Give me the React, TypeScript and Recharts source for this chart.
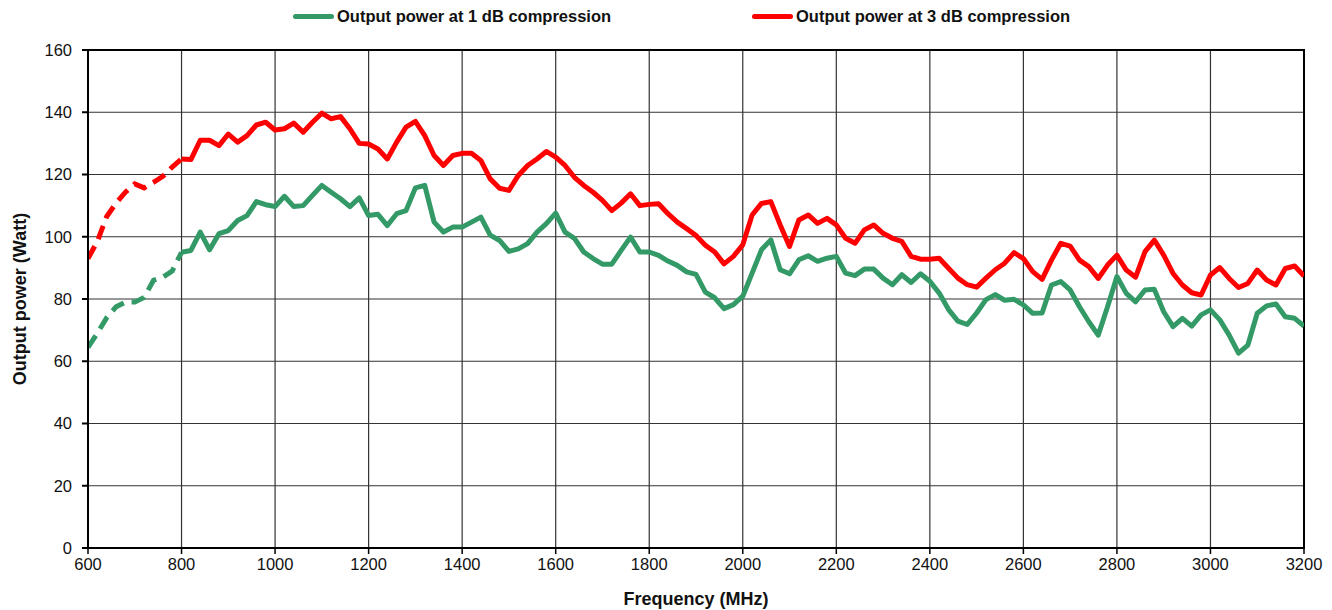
import {
  LineChart,
  Line,
  XAxis,
  YAxis,
  CartesianGrid,
  Legend,
  Label,
  ReferenceArea
} from "recharts";

// frequency grid (MHz)
const FREQ_DASHED = [600, 620, 640, 660, 680, 700, 720, 740, 760, 780, 800];
const FREQ_SOLID = [
  800, 820, 840, 860, 880, 900, 920, 940, 960, 980,
  1000, 1020, 1040, 1060, 1080, 1100, 1120, 1140, 1160, 1180,
  1200, 1220, 1240, 1260, 1280, 1300, 1320, 1340, 1360, 1380,
  1400, 1420, 1440, 1460, 1480, 1500, 1520, 1540, 1560, 1580,
  1600, 1620, 1640, 1660, 1680, 1700, 1720, 1740, 1760, 1780,
  1800, 1820, 1840, 1860, 1880, 1900, 1920, 1940, 1960, 1980,
  2000, 2020, 2040, 2060, 2080, 2100, 2120, 2140, 2160, 2180,
  2200, 2220, 2240, 2260, 2280, 2300, 2320, 2340, 2360, 2380,
  2400, 2420, 2440, 2460, 2480, 2500, 2520, 2540, 2560, 2580,
  2600, 2620, 2640, 2660, 2680, 2700, 2720, 2740, 2760, 2780,
  2800, 2820, 2840, 2860, 2880, 2900, 2920, 2940, 2960, 2980,
  3000, 3020, 3040, 3060, 3080, 3100, 3120, 3140, 3160, 3180,
  3200
];

// output power at 1 dB compression (W)
const P1DB_DASHED = [64.5, 69, 74, 77.5, 79, 79, 80.5, 86, 87, 89, 95];
const P1DB_SOLID = [
  95, 95.6, 101.5, 95.8, 101, 102, 105.2, 106.8, 111.3, 110.3,
  109.7, 113, 109.7, 110, 113.3, 116.5, 114.3, 112.2, 109.7, 112.5,
  106.8, 107.2, 103.6, 107.4, 108.4, 115.7, 116.5, 104.7, 101.5, 103.1,
  103.1, 104.7, 106.3, 100.5, 98.8, 95.3, 96.1, 97.8, 101.5, 104.2,
  107.6, 101.5, 99.5, 95.1, 93, 91.2, 91.2, 95.6, 99.9, 95.1,
  95.1, 94, 92.2, 90.8, 88.7, 87.9, 82.2, 80.4, 76.9, 78.2,
  80.9, 88.3, 95.8, 99, 89.4, 88.1, 92.6, 93.9, 92.1, 93.1,
  93.7, 88.3, 87.5, 89.6, 89.6, 86.7, 84.6, 87.8, 85.3, 88.1,
  85.7, 81.9, 76.6, 72.9, 71.8, 75.5, 79.8, 81.4, 79.6, 79.9,
  78.1, 75.4, 75.5, 84.5, 85.6, 82.9, 77.5, 72.7, 68.4, 77.5,
  87.2, 81.8, 79.1, 82.9, 83.1, 75.9, 71.1, 73.8, 71.3, 74.9,
  76.5, 73.3, 68.4, 62.6, 65.2, 75.4, 77.8, 78.4, 74.3, 73.8,
  71.3
];

// output power at 3 dB compression (W)
const P3DB_DASHED = [93, 98.5, 106.5, 110.8, 114.3, 117, 115.7, 117.5, 119.4, 122.4, 125];
const P3DB_SOLID = [
  125, 124.8, 131, 131, 129.3, 133, 130.4, 132.5, 135.9, 136.8,
  134.3, 134.7, 136.5, 133.6, 136.8, 139.7, 137.9, 138.6, 134.7, 130,
  129.8, 128.2, 125, 130.4, 135.2, 137.1, 132.5, 126.1, 122.9, 126.1,
  126.8, 126.8, 124.5, 118.6, 115.6, 114.9, 119.7, 122.9, 125, 127.4,
  125.6, 122.9, 119.1, 116.5, 114.3, 111.7, 108.4, 110.8, 113.8, 110,
  110.4, 110.6, 107.4, 104.7, 102.6, 100.4, 97.3, 95.1, 91.3, 93.7,
  97.4, 107, 110.7, 111.3, 103.8, 96.9, 105.4, 107, 104.3, 105.9,
  103.8, 99.5, 97.9, 102.2, 103.8, 101.1, 99.5, 98.5, 93.7, 92.8,
  92.8, 93.1, 89.9, 86.7, 84.6, 83.8, 86.7, 89.4, 91.5, 94.9,
  93, 88.8, 86.3, 92.5, 97.9, 97, 92.5, 90.4, 86.6, 90.9,
  94.1, 89.3, 87, 95.2, 98.9, 94.1, 88.2, 84.5, 82, 81.3,
  87.7, 90.1, 86.6, 83.7, 85, 89.3, 86.1, 84.5, 89.8, 90.6,
  87.4
];

const X_TICKS = [600, 800, 1000, 1200, 1400, 1600, 1800, 2000, 2200, 2400, 2600, 2800, 3000, 3200];
const Y_TICKS = [0, 20, 40, 60, 80, 100, 120, 140, 160];

const LEGEND_1DB = "Output power at 1 dB compression";
const LEGEND_3DB = "Output power at 3 dB compression";

const GREEN = "#339966";
const RED = "#ff0000";
const FONT = "'Liberation Sans', Arial, sans-serif";

const toRows = (freqs: number[], vals: number[]) =>
  freqs.map((f, i) => ({ f, p: vals[i] }));

const green1 = toRows(FREQ_DASHED, P1DB_DASHED);
const green2 = toRows(FREQ_SOLID, P1DB_SOLID);
const red1 = toRows(FREQ_DASHED, P3DB_DASHED);
const red2 = toRows(FREQ_SOLID, P3DB_SOLID);

function LegendItems() {
  const item = (color: string, text: string, width?: number) => (
    <div style={{ display: "flex", alignItems: "center", width }}>
      <div
        style={{
          width: 41,
          height: 5,
          borderRadius: 3,
          background: color,
          marginRight: 3
        }}
      />
      <span style={{ fontSize: 16.5, fontWeight: "bold", color: "#111" }}>
        {text}
      </span>
    </div>
  );
  return (
    <div
      style={{
        display: "flex",
        paddingLeft: 293,
        fontFamily: FONT,
        lineHeight: "20px"
      }}
    >
      {item(GREEN, LEGEND_1DB, 459)}
      {item(RED, LEGEND_3DB)}
    </div>
  );
}

export default function App() {
  const tickStyle = { fontSize: 16.5, fill: "#111", fontFamily: FONT };
  return (
    <div style={{ position: "absolute", left: 0, top: 0 }}>
      <LineChart
        width={1332}
        height={610}
        margin={{ top: 50, right: 28, bottom: 0, left: 0 }}
      >
        <CartesianGrid stroke="#333" strokeWidth={1.2} />
        <XAxis
          type="number"
          dataKey="f"
          domain={[600, 3200]}
          ticks={X_TICKS}
          interval={0}
          height={62}
          tick={tickStyle}
          tickSize={6}
          tickMargin={4}
          axisLine={{ stroke: "#000", strokeWidth: 2 }}
          tickLine={{ stroke: "#000", strokeWidth: 1.5 }}
          allowDataOverflow
        >
          <Label
            value="Frequency (MHz)"
            position="insideBottom"
            offset={5}
            style={{ fontSize: 18, fontWeight: "bold", fill: "#111", fontFamily: FONT }}
          />
        </XAxis>
        <YAxis
          type="number"
          domain={[0, 160]}
          ticks={Y_TICKS}
          interval={0}
          width={88}
          tick={tickStyle}
          tickSize={6}
          tickMargin={10}
          axisLine={{ stroke: "#000", strokeWidth: 2 }}
          tickLine={{ stroke: "#000", strokeWidth: 2 }}
          allowDataOverflow
        >
          <Label
            value="Output power (Watt)"
            angle={-90}
            position="insideLeft"
            offset={20}
            style={{
              fontSize: 18,
              fontWeight: "bold",
              fill: "#111",
              fontFamily: FONT,
              textAnchor: "middle"
            }}
          />
        </YAxis>
        <ReferenceArea
          x1={600}
          x2={3200}
          y1={0}
          y2={160}
          fill="none"
          stroke="#000"
          strokeWidth={2}
          ifOverflow="visible"
        />
        <Legend
          verticalAlign="middle"
          wrapperStyle={{ top: 6, left: 0, width: 1332 }}
          content={() => <LegendItems />}
        />
        <Line
          data={green1}
          dataKey="p"
          stroke={GREEN}
          strokeWidth={5}
          strokeDasharray="14 8"
          dot={false}
          isAnimationActive={false}
          legendType="none"
        />
        <Line
          data={red1}
          dataKey="p"
          stroke={RED}
          strokeWidth={5}
          strokeDasharray="14 8"
          dot={false}
          isAnimationActive={false}
          legendType="none"
        />
        <Line
          data={green2}
          dataKey="p"
          name={LEGEND_1DB}
          stroke={GREEN}
          strokeWidth={5}
          strokeLinejoin="round"
          dot={false}
          isAnimationActive={false}
        />
        <Line
          data={red2}
          dataKey="p"
          name={LEGEND_3DB}
          stroke={RED}
          strokeWidth={5}
          strokeLinejoin="round"
          dot={false}
          isAnimationActive={false}
        />
      </LineChart>
    </div>
  );
}
